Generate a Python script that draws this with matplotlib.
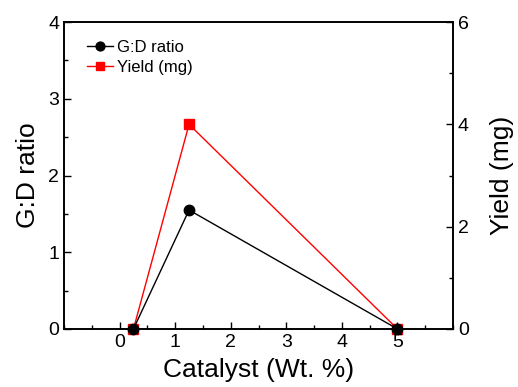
import matplotlib
matplotlib.use("Agg")
import matplotlib.pyplot as plt
from matplotlib.ticker import MultipleLocator

plt.rcParams["font.family"] = ["Liberation Sans", "DejaVu Sans"]

catalyst = [0.25, 1.25, 5.0]
gd_ratio = [0.0, 1.55, 0.0]
yield_mg = [0.0, 4.0, 0.0]

fig = plt.figure(figsize=(5.18, 3.87), dpi=100)
ax = fig.add_axes([0.1236, 0.150, 0.7509, 0.793])
ax2 = ax.twinx()

ln2, = ax2.plot(catalyst, yield_mg, color="red", lw=1.0, marker="s", ms=7,
                label="Yield (mg)", clip_on=False)
ln1, = ax.plot(catalyst, gd_ratio, color="black", lw=1.0, marker="o", ms=7.5,
               label="G:D ratio", clip_on=False)

# black series sits above the red one
ax.set_zorder(ax2.get_zorder() + 1)
ax.patch.set_visible(False)

ax.set_xlim(-1, 6)
ax.set_ylim(0, 4)
ax2.set_ylim(0, 6)

ax.set_xticks([0, 1, 2, 3, 4, 5])
ax.xaxis.set_minor_locator(MultipleLocator(0.5))
ax.yaxis.set_major_locator(MultipleLocator(1))
ax.yaxis.set_minor_locator(MultipleLocator(0.5))
ax2.yaxis.set_major_locator(MultipleLocator(2))
ax2.yaxis.set_minor_locator(MultipleLocator(1))

for a in (ax, ax2):
    a.tick_params(which="major", direction="in", length=5, width=1, labelsize=14)
    a.tick_params(which="minor", direction="in", length=3, width=1)
    for sp in a.spines.values():
        sp.set_linewidth(1.2)
ax.tick_params(top=False, right=False, which="both")
ax2.tick_params(left=False, which="both")

ax.set_xlabel("Catalyst (Wt. %)", fontsize=19, labelpad=5)
ax.set_ylabel("G:D ratio", fontsize=19, labelpad=6)
ax2.set_ylabel("Yield (mg)", fontsize=19, labelpad=15)

ax.legend(handles=[ln1, ln2], loc="upper left", frameon=False, fontsize=12,
          handlelength=1.6, handletextpad=0.2, labelspacing=0.3,
          bbox_to_anchor=(0.02, 0.99), markerscale=0.85)

fig.savefig("out.png", dpi=100)
